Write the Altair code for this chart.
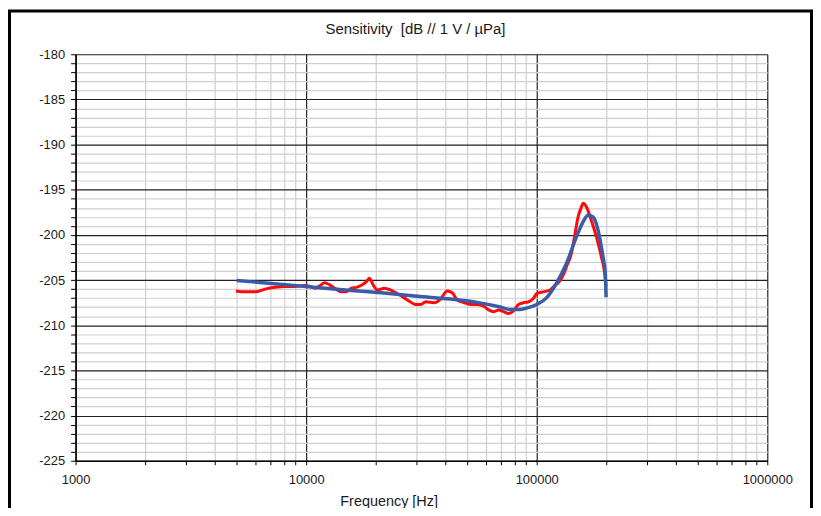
import altair as alt
import pandas as pd

# ---- data ----
freq_measured = [4960, 5440, 6010, 6640, 7330, 8090, 8940, 9870, 10400, 10900,
                 11500, 12000, 12600, 13300, 14200, 14900, 15700, 16500, 17300, 18200,
                 18800, 19500, 20400, 21800, 23300, 25300, 27500, 29900, 31400, 33000,
                 35900, 38300, 40900, 43000, 45200, 48300, 51600, 55100, 58900, 61900,
                 65100, 68400, 71800, 75500, 79300, 83400, 87900, 92000, 96800, 100000,
                 106800, 114200, 119900, 124000, 128200, 134700, 141500, 146300, 151200, 156300,
                 158900, 164300, 172600, 181400, 190600, 197000, 200000]
db_measured = [-206.2, -206.3, -206.3, -206.0, -205.8, -205.7, -205.7, -205.6, -205.7, -205.9,
               -205.6, -205.3, -205.5, -205.9, -206.3, -206.3, -205.9, -205.8, -205.6, -205.2,
               -204.8, -205.5, -206.1, -205.9, -206.1, -206.6, -207.2, -207.7, -207.7, -207.4,
               -207.5, -207.1, -206.2, -206.4, -207.2, -207.5, -207.7, -207.7, -207.9, -208.3,
               -208.5, -208.3, -208.5, -208.7, -208.4, -207.7, -207.5, -207.4, -207.0, -206.5,
               -206.3, -206.1, -205.6, -205.3, -204.8, -203.5, -202.0, -200.0, -198.0, -196.9,
               -196.5, -196.9, -198.4, -200.2, -202.4, -204.2, -205.7]

freq_fit = [5000, 6860, 10000, 15700, 21800, 30400, 42300, 55100, 69500, 76700,
            84500, 92000, 100000, 110000, 121900, 134700, 148700, 158900, 167000, 175500,
            184500, 193800, 198000, 200000]
db_fit = [-205.05, -205.34, -205.71, -206.15, -206.44, -206.8, -207.1, -207.47, -207.98, -208.25,
          -208.25, -208.05, -207.7, -207.0, -205.34, -203.14, -200.21, -198.56, -197.82, -198.01,
          -199.47, -202.4, -204.0, -206.9]

x_major = [1000, 10000, 100000, 1000000]
x_ticks = [m * d for d in [1000, 10000, 100000] for m in range(1, 10)] + [1000000]
y_ticks = list(range(-225, -179))

title_text = "Sensitivity\u00a0\u00a0[dB // 1 V / µPa]"
x_title = "Frequency [Hz]"

# ---- chart ----
df_m = pd.DataFrame({"f": freq_measured, "db": db_measured})
df_f = pd.DataFrame({"f": freq_fit, "db": db_fit})

FONT = "Liberation Sans"
major_test_x = "indexof([1000,10000,100000,1000000], datum.value) >= 0"

x_enc = alt.X(
    "f:Q",
    scale=alt.Scale(type="log", domain=[1000, 1000000], nice=False),
    axis=alt.Axis(
        values=x_ticks,
        labelExpr=f"{major_test_x} ? toString(datum.value) : ''",
        labelFlush=False,
        labelOverlap=False,
        labelBaseline="alphabetic",
        labelPadding=19,
        labelFont=FONT,
        labelFontSize=13,
        labelColor="#1a1a1a",
        tickSize=4,
        tickColor="#000000",
        domainColor="#000000",
        domainWidth=1.5,
        grid=True,
        gridColor={"condition": {"test": major_test_x, "value": "#222222"}, "value": "#cfcfcf"},
        gridWidth=1.2,
        title=x_title,
        titleFont=FONT,
        titleFontSize=14.5,
        titleFontWeight="normal",
        titleColor="#1a1a1a",
        titleBaseline="alphabetic",
        titleAlign="center",
        titleX=315,
        titleY=45,
    ),
)

y_enc = alt.Y(
    "db:Q",
    scale=alt.Scale(domain=[-225, -180], nice=False, zero=False),
    axis=alt.Axis(
        values=y_ticks,
        labelExpr="datum.value % 5 == 0 ? toString(datum.value) : ''",
        labelOverlap=False,
        labelPadding=6,
        labelFont=FONT,
        labelFontSize=13,
        labelColor="#1a1a1a",
        tickSize=5,
        tickColor="#000000",
        domainColor="#000000",
        domainWidth=1.5,
        grid=True,
        gridColor={"condition": {"test": "datum.value % 5 == 0", "value": "#222222"}, "value": "#cfcfcf"},
        gridWidth=1.2,
        title=None,
    ),
)

measured = alt.Chart(df_m).mark_line(
    color="#ff0a0a", strokeWidth=3, interpolate="monotone"
).encode(x=x_enc, y=y_enc)

fit = alt.Chart(df_f).mark_line(
    color="#3a5ba8", strokeWidth=3.5, interpolate="monotone"
).encode(x=x_enc, y=y_enc)

frame = alt.Chart(alt.Data(values=[{"k": 1}])).mark_rect(
    filled=False, stroke="#000000", strokeWidth=3
).encode(
    x=alt.value(-66.5), x2=alt.value(740.5), y=alt.value(-43.5), y2=alt.value(470)
)

chart = alt.layer(measured, fit, frame).properties(
    width=696,
    height=409,
    title=alt.TitleParams(
        text=title_text,
        font=FONT,
        fontSize=15,
        fontWeight="normal",
        color="#1a1a1a",
        anchor="middle",
        frame="group",
        baseline="alphabetic",
        offset=-40,
        dx=-6,
    ),
    autosize=alt.AutoSizeParams(type="none"),
    padding={"left": 68, "top": 45, "right": 46, "bottom": 46},
    background="#ffffff",
).configure_view(strokeWidth=0)

chart.save("out.html", embed_options={"renderer": "svg", "actions": False})
